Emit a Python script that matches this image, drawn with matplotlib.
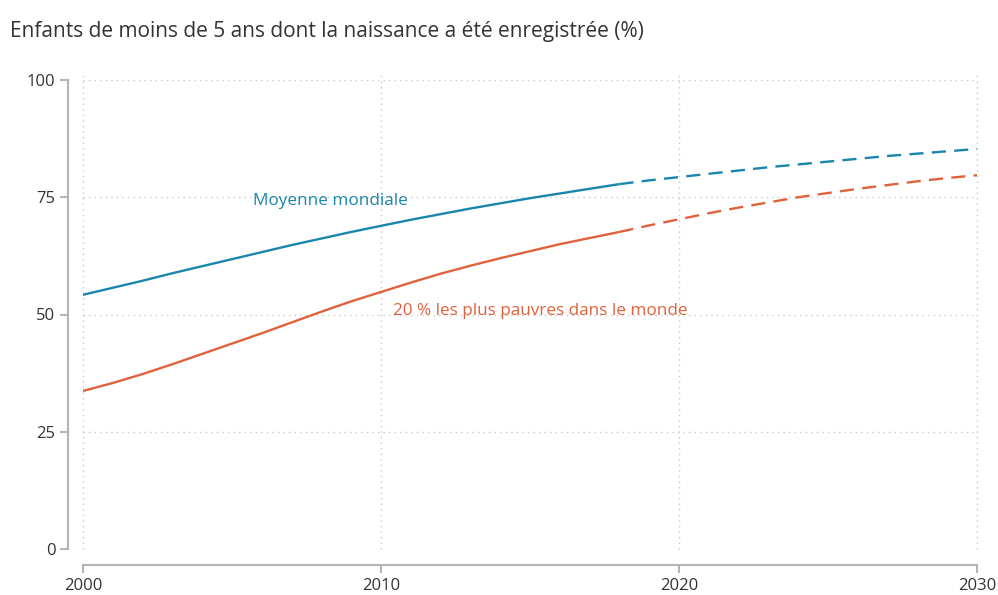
import matplotlib
matplotlib.use("Agg")
import matplotlib.pyplot as plt

plt.rcParams["font.family"] = ["Open Sans", "DejaVu Sans"]

# ---------------------------- data ---------------------------------------- #
years_obs = list(range(2000, 2019))
world_obs = [54.2, 55.7, 57.2, 58.8, 60.3, 61.8, 63.3, 64.8, 66.2, 67.6,
             68.9, 70.2, 71.4, 72.6, 73.7, 74.8, 75.8, 76.8, 77.8]
poor_obs = [33.7, 35.4, 37.3, 39.4, 41.6, 43.8, 46.0, 48.3, 50.6, 52.8,
            54.8, 56.8, 58.7, 60.4, 62.0, 63.5, 65.0, 66.3, 67.6]

years_proj = list(range(2018, 2031))
world_proj = [77.8, 78.6, 79.3, 80.0, 80.7, 81.4, 82.0, 82.6, 83.2, 83.8,
              84.3, 84.8, 85.3]
poor_proj = [67.6, 69.0, 70.3, 71.6, 72.8, 73.9, 75.0, 75.9, 76.8, 77.6,
             78.4, 79.1, 79.7]

x_ticks = [2000, 2010, 2020, 2030]
y_ticks = [0, 25, 50, 75, 100]

BLUE = "#1a86ad"
ORANGE = "#e0623c"
GRID = "#c8c8c8"
SPINE = "#b4b4b4"
TEXT = "#333333"

# ---------------------------- plot ---------------------------------------- #
fig = plt.figure(figsize=(9.98, 5.95), dpi=100)
ax = fig.add_axes([83 / 998, 46 / 595, 894 / 998, 469 / 595])

for y in y_ticks[1:]:
    ax.axhline(y, color=GRID, linestyle=(0, (1, 3)), linewidth=1, zorder=0)
for x in x_ticks:
    ax.axvline(x, ymin=0, ymax=1.02, color=GRID, linestyle=(0, (1, 3)), linewidth=1,
               zorder=0, clip_on=False)

ax.plot(years_obs, world_obs, color=BLUE, linewidth=1.7, solid_capstyle="butt")
ax.plot(years_proj, world_proj, color=BLUE, linewidth=1.7, linestyle=(0, (6, 3.5)))
ax.plot(years_obs, poor_obs, color=ORANGE, linewidth=1.7, solid_capstyle="butt")
ax.plot(years_proj, poor_proj, color=ORANGE, linewidth=1.7, linestyle=(0, (6, 3.5)))

ax.text(2005.7, 74.2, "Moyenne mondiale", color=BLUE, fontsize=12.3, va="center")
ax.text(2010.4, 50.7, "20 % les plus pauvres dans le monde", color=ORANGE,
        fontsize=12.3, va="center")

ax.set_xlim(2000, 2030)
ax.set_ylim(0, 100)
ax.set_xticks(x_ticks)
ax.set_yticks(y_ticks)

for side in ["top", "right"]:
    ax.spines[side].set_visible(False)
ax.spines["left"].set_position(("outward", 10.8))
ax.spines["bottom"].set_position(("outward", 11.5))
ax.spines["left"].set_bounds(0, 100)
ax.spines["bottom"].set_bounds(2000, 2030)
for side in ["left", "bottom"]:
    ax.spines[side].set_color(SPINE)
    ax.spines[side].set_linewidth(1.5)

ax.tick_params(axis="both", colors=SPINE, width=1.5, length=6, labelsize=12,
               labelcolor=TEXT)
ax.tick_params(axis="y", pad=3)

fig.text(10 / 998, 1 - 32 / 595, "Enfants de moins de 5 ans dont la naissance a été enregistrée (%)",
         fontsize=15, color=TEXT, va="center", ha="left")

fig.savefig("out.png", dpi=100)
